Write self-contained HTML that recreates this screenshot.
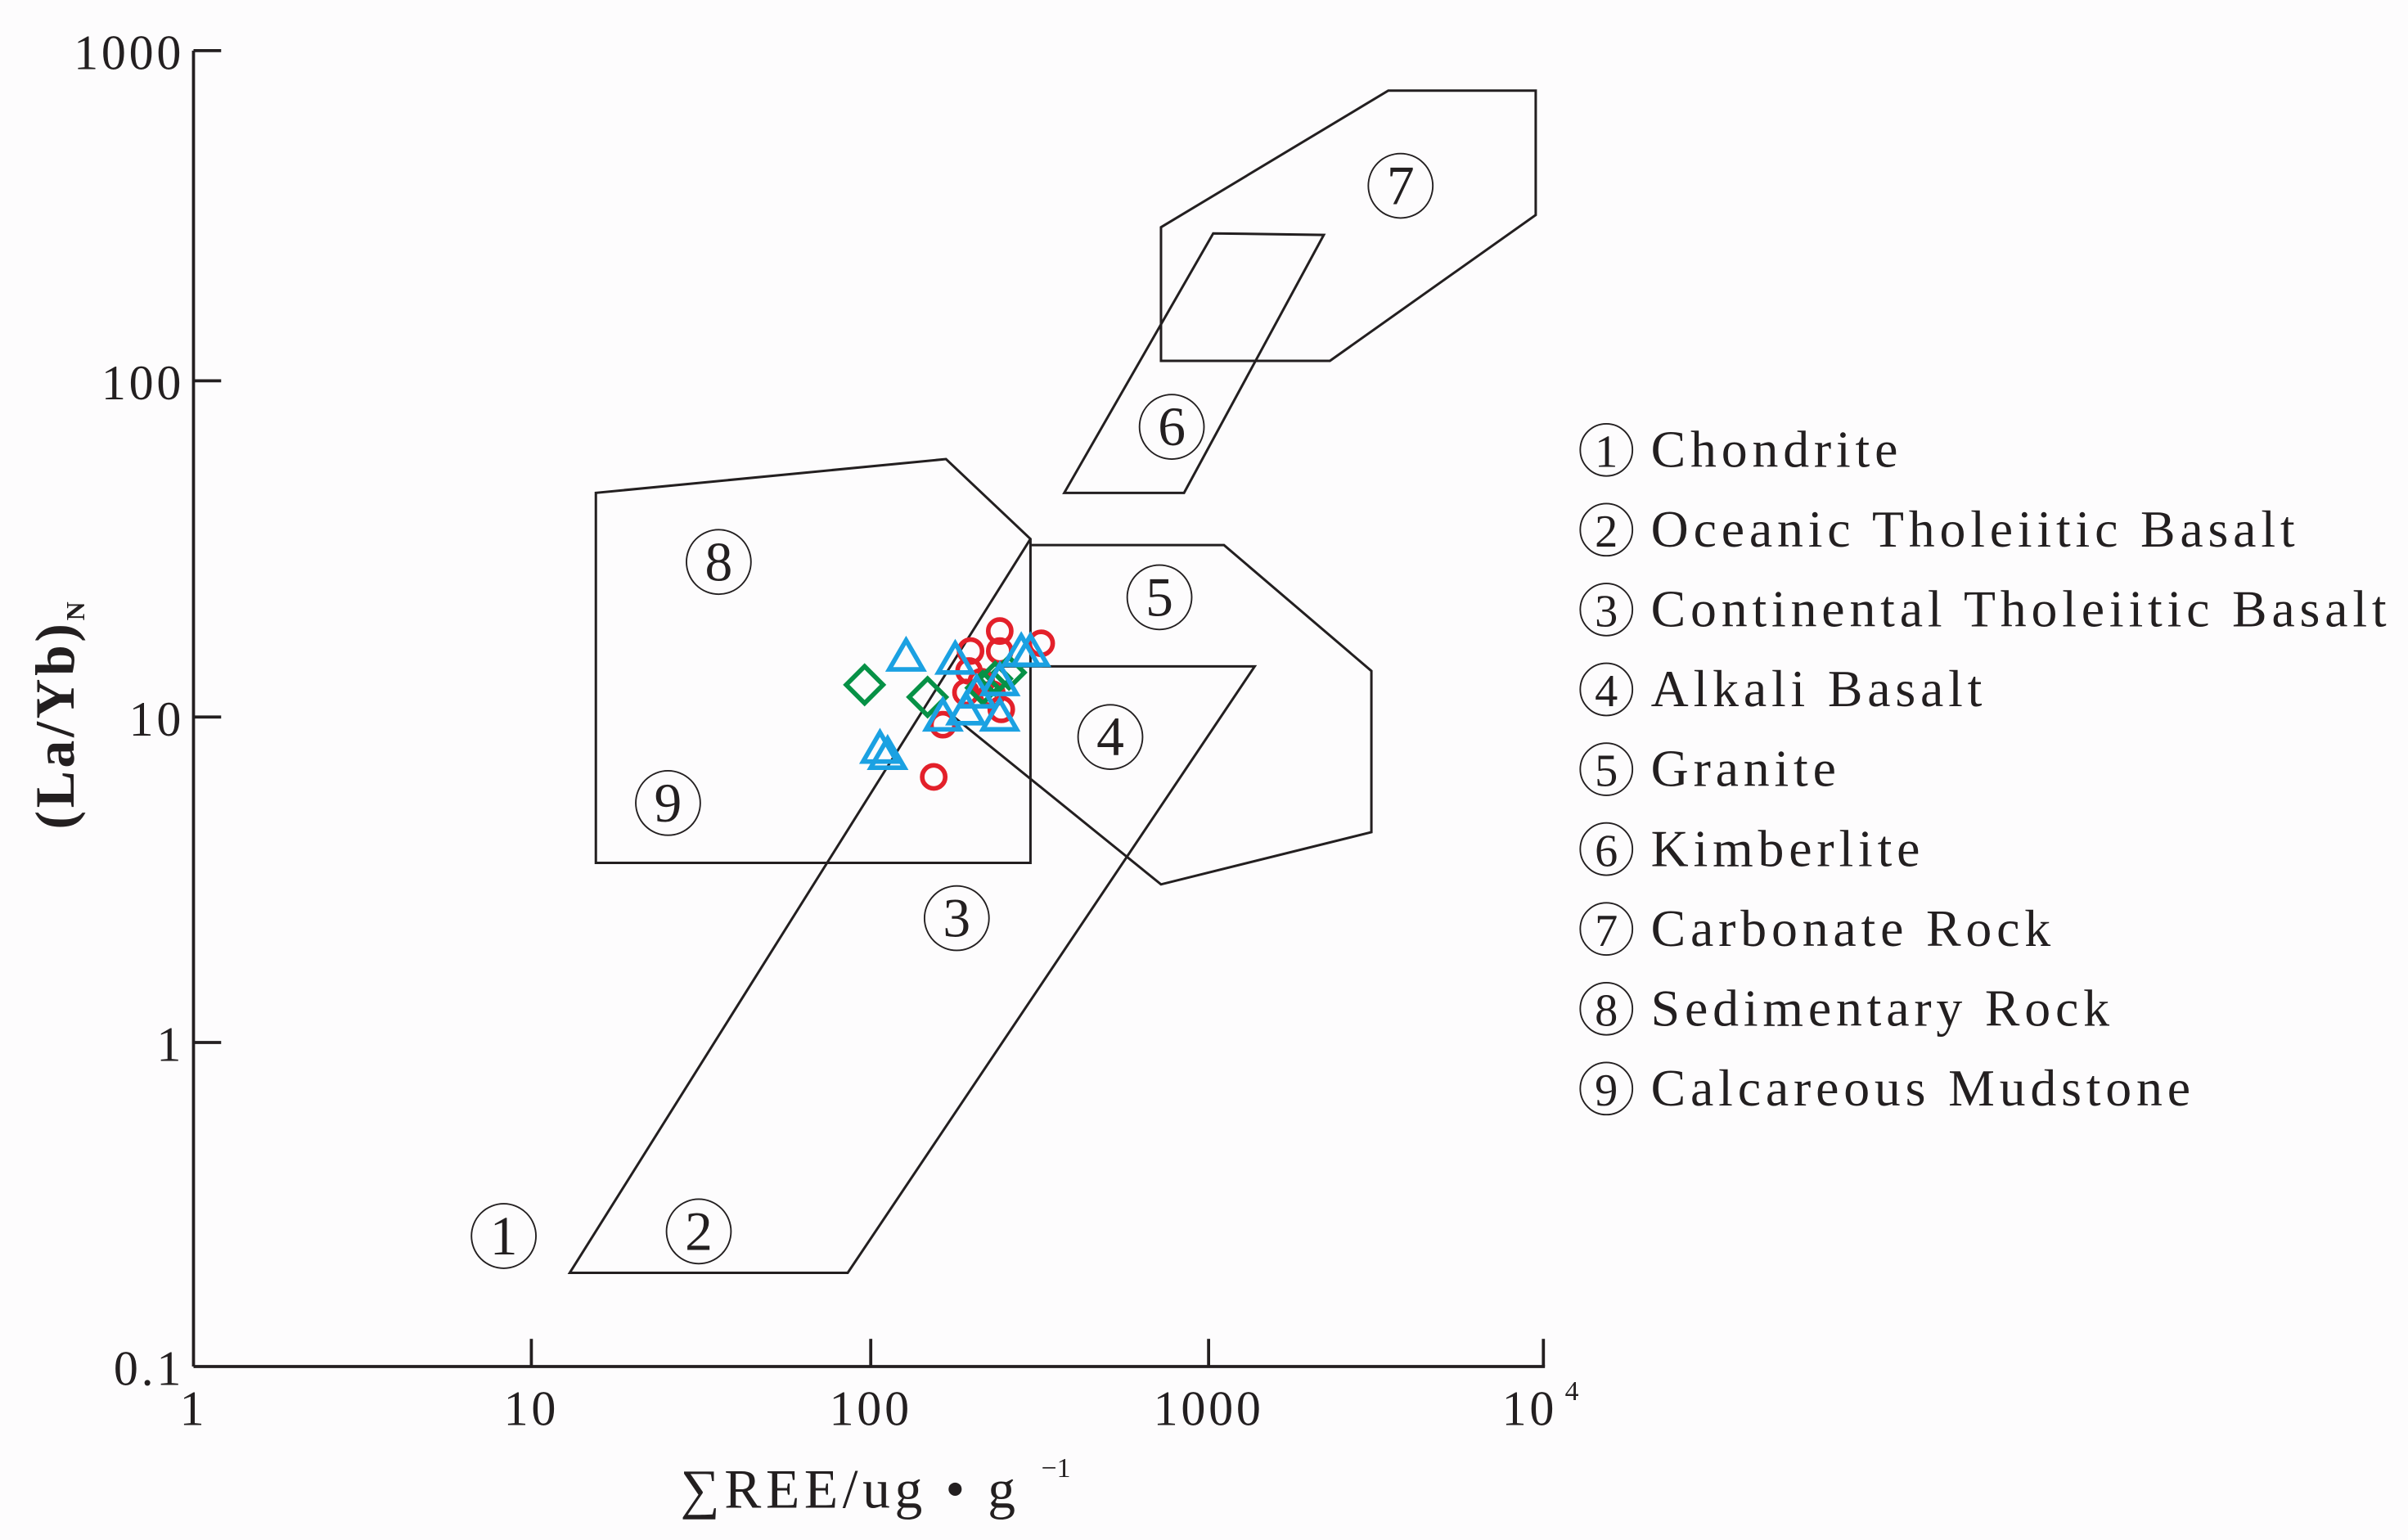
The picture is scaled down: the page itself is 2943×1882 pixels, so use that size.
<!DOCTYPE html>
<html><head><meta charset="utf-8"><style>
html,body{margin:0;padding:0;background:#fdfcfd;}
svg{display:block;}
text{font-family:"Liberation Serif",serif;fill:#231f20;}
</style></head><body>
<svg width="2943" height="1882" viewBox="0 0 1568 1003" preserveAspectRatio="none" xmlns="http://www.w3.org/2000/svg">
<rect width="1568" height="1003" fill="#fdfcfd"/>
<g stroke="#231f20" stroke-width="2" fill="none">
<line x1="126" y1="33" x2="126" y2="890"/>
<line x1="126" y1="890" x2="1006" y2="890"/>
<line x1="126" y1="33" x2="144" y2="33"/>
<line x1="126" y1="248" x2="144" y2="248"/>
<line x1="126" y1="467" x2="144" y2="467"/>
<line x1="126" y1="679" x2="144" y2="679"/>
<line x1="346" y1="890" x2="346" y2="872"/>
<line x1="567" y1="890" x2="567" y2="872"/>
<line x1="787" y1="890" x2="787" y2="872"/>
<line x1="1005" y1="890" x2="1005" y2="872"/>
</g>
<g stroke="#231f20" stroke-width="1.6" fill="none">
<polygon points="756,148 904,59 1000,59 1000,140 866,235 756,235"/>
<polygon points="693,321 790,152 862,153 771,321"/>
<polygon points="388,321 616,299 671,351 671,562 388,562"/>
<polyline points="671,355 797,355 893,437 893,542 756,576 620,466"/>
<polyline points="671,351 371,829 552,829 817,434 650,434"/>
</g>
<g font-size="32" text-anchor="end" letter-spacing="2">
<text x="120" y="45">1000</text>
<text x="120" y="260">100</text>
<text x="120" y="479">10</text>
<text x="120" y="691">1</text>
<text x="120" y="902">0.1</text>
</g>
<g font-size="32" text-anchor="middle" letter-spacing="2">
<text x="126" y="928">1</text>
<text x="346" y="928">10</text>
<text x="567" y="928">100</text>
<text x="787" y="928">1000</text>
<text x="996" y="928">10</text>
</g>
<text x="1019" y="912" font-size="18">4</text>
<text x="443" y="982" font-size="36" letter-spacing="3">∑REE/ug • g</text>
<text x="678" y="962" font-size="18">−1</text>
<text transform="translate(48,465) rotate(-90)" font-size="36" font-weight="bold" text-anchor="middle" letter-spacing="2">(La/Yb)<tspan font-size="17" dy="7">N</tspan></text>
<g fill="none" stroke="#231f20" stroke-width="1">
<circle cx="328" cy="805" r="21"/><circle cx="455" cy="802" r="21"/><circle cx="623" cy="598" r="21"/>
<circle cx="723" cy="480" r="21"/><circle cx="755" cy="389" r="21"/><circle cx="763" cy="278" r="21"/>
<circle cx="912" cy="121" r="21"/><circle cx="468" cy="366" r="21"/><circle cx="435" cy="523" r="21"/>
</g>
<g font-size="36" text-anchor="middle">
<text x="328" y="817">1</text><text x="455" y="814">2</text><text x="623" y="610">3</text>
<text x="723" y="492">4</text><text x="755" y="401">5</text><text x="763" y="290">6</text>
<text x="912" y="133">7</text><text x="468" y="378">8</text><text x="435" y="535">9</text>
</g>
<g fill="none" stroke="#231f20" stroke-width="1">
<circle cx="1046" cy="293" r="17"/><circle cx="1046" cy="345" r="17"/><circle cx="1046" cy="397" r="17"/>
<circle cx="1046" cy="449" r="17"/><circle cx="1046" cy="501" r="17"/><circle cx="1046" cy="553" r="17"/>
<circle cx="1046" cy="605" r="17"/><circle cx="1046" cy="657" r="17"/><circle cx="1046" cy="709" r="17"/>
</g>
<g font-size="30" text-anchor="middle">
<text x="1046" y="304">1</text><text x="1046" y="356">2</text><text x="1046" y="408">3</text>
<text x="1046" y="460">4</text><text x="1046" y="512">5</text><text x="1046" y="564">6</text>
<text x="1046" y="616">7</text><text x="1046" y="668">8</text><text x="1046" y="720">9</text>
</g>
<g font-size="34" letter-spacing="3.1">
<text x="1075" y="304">Chondrite</text>
<text x="1075" y="356">Oceanic Tholeiitic Basalt</text>
<text x="1075" y="408">Continental Tholeiitic Basalt</text>
<text x="1075" y="460">Alkali Basalt</text>
<text x="1075" y="512">Granite</text>
<text x="1075" y="564">Kimberlite</text>
<text x="1075" y="616">Carbonate Rock</text>
<text x="1075" y="668">Sedimentary Rock</text>
<text x="1075" y="720">Calcareous Mudstone</text>
</g>
<g fill="none" stroke="#e3202a" stroke-width="3">
<circle cx="651" cy="411" r="7.5"/><circle cx="678" cy="419" r="7.5"/><circle cx="632" cy="424" r="7.5"/>
<circle cx="631" cy="437" r="7.5"/><circle cx="651" cy="424" r="7.5"/><circle cx="629" cy="451" r="7.5"/>
<circle cx="652" cy="462" r="7.5"/><circle cx="614" cy="472" r="7.5"/><circle cx="608" cy="506" r="7.5"/>
<circle cx="639" cy="444" r="7.5"/><circle cx="646" cy="452" r="7.5"/>
</g>
<g fill="none" stroke="#079146" stroke-width="3">
<polygon points="563,434 575,446 563,458 551,446"/>
<polygon points="604,442 616,454 604,466 592,454"/>
<polygon points="648,432 658,442 648,452 638,442"/>
<polygon points="657,428 667,438 657,448 647,438"/>
<polygon points="640,438 650,448 640,458 630,448"/>
</g>
<g fill="none" stroke="#1ba1e2" stroke-width="3">
<polygon points="590,417 601,436 579,436"/>
<polygon points="622,419 633,438 611,438"/>
<polygon points="665,414 676,433 654,433"/>
<polygon points="671,414 682,433 660,433"/>
<polygon points="651,433 662,452 640,452"/>
<polygon points="614,456 625,475 603,475"/>
<polygon points="629,452 640,471 618,471"/>
<polygon points="651,456 662,475 640,475"/>
<polygon points="573,477 584,496 562,496"/>
<polygon points="578,481 589,500 567,500"/>
<polygon points="636,441 647,460 625,460"/>
</g>
</svg>
</body></html>
